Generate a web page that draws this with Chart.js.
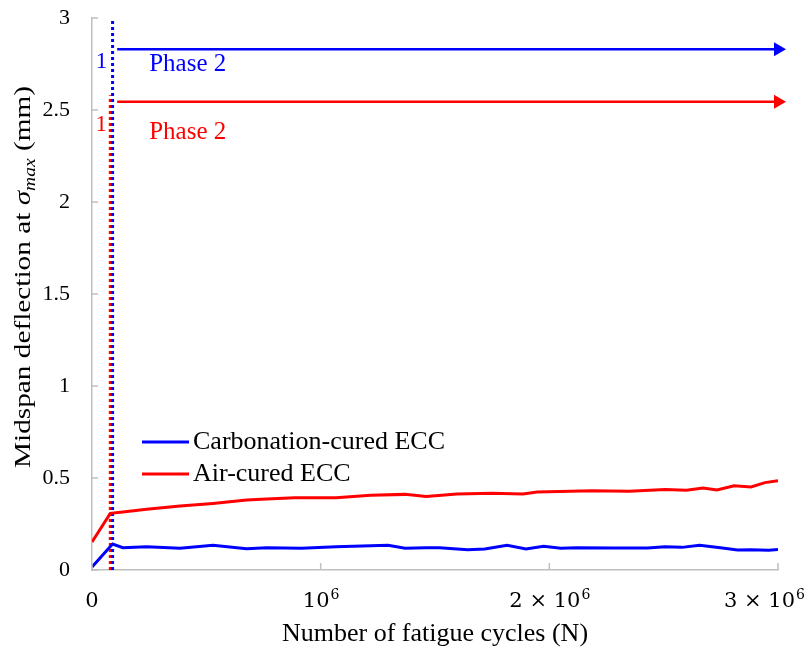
<!DOCTYPE html>
<html>
<head>
<meta charset="utf-8">
<script src="https://cdn.jsdelivr.net/npm/chart.js@4.4.0/dist/chart.umd.min.js"></script>
<style>
body { margin: 0; background: #fff; }
#wrap { width: 809px; height: 654px; }
</style>
</head>
<body>
<div id="wrap"><canvas id="myChart" width="809" height="654"></canvas></div>
<script>
// fatigue cycles (N) and midspan deflection (mm)
const carbCycles = [0, 90000, 135000, 239000, 385000, 529000, 676000, 764000, 916000, 1067000, 1295000, 1369000, 1461000, 1520000, 1643000, 1718000, 1815000, 1898000, 1975000, 2050000, 2120000, 2280000, 2430000, 2506000, 2580000, 2657000, 2748000, 2823000, 2880000, 2959000, 3000000];
const carbDefl   = [0.016, 0.141, 0.121, 0.127, 0.118, 0.134, 0.116, 0.121, 0.118, 0.127, 0.134, 0.118, 0.121, 0.121, 0.110, 0.114, 0.134, 0.114, 0.129, 0.118, 0.121, 0.120, 0.120, 0.127, 0.123, 0.134, 0.121, 0.109, 0.110, 0.107, 0.112];

const airCycles = [0, 80000, 135000, 239000, 385000, 529000, 676000, 764000, 886000, 1067000, 1219000, 1369000, 1461000, 1596000, 1749000, 1885000, 1946000, 2187000, 2350000, 2506000, 2600000, 2672000, 2733000, 2808000, 2882000, 2943000, 3000000];
const airDefl   = [0.152, 0.308, 0.315, 0.330, 0.348, 0.362, 0.380, 0.386, 0.393, 0.393, 0.406, 0.411, 0.399, 0.413, 0.417, 0.413, 0.424, 0.431, 0.428, 0.438, 0.433, 0.446, 0.435, 0.458, 0.451, 0.475, 0.485];

// end of phase 1 (dotted lines) and phase 2 arrows
const carbPhase1End = 90000;
const airPhase1End = 80000;
const airBoundaryTop = 2.58;
const phase2Start = 110000;
const carbPhase2Level = 2.83;
const airPhase2Level = 2.545;

const xTickBase = ['0', '10', '2 \u00d7 10', '3 \u00d7 10'];
const xTickExp  = ['', '6', '6', '6'];

const BLUE = '#0000ff';
const RED = '#ff0000';
const AXIS = '#bfbfbf';
const SERIF = '"Liberation Serif", "Times New Roman", serif';

const pts = (xs, ys) => xs.map((v, i) => ({ x: v, y: ys[i] }));

const extras = {
  id: 'extras',
  afterDraw(chart) {
    const { ctx, chartArea: a, scales: { x, y } } = chart;
    ctx.save();

    // tick marks point into the plot
    ctx.strokeStyle = AXIS;
    ctx.lineWidth = 1.5;
    ctx.beginPath();
    y.ticks.forEach((t, i) => {
      const py = y.getPixelForTick(i);
      ctx.moveTo(a.left, py); ctx.lineTo(a.left + 6, py);
    });
    x.ticks.forEach((t, i) => {
      const px = x.getPixelForTick(i);
      ctx.moveTo(px, a.bottom); ctx.lineTo(px, a.bottom - 7);
    });
    ctx.stroke();

    // x tick labels with superscript exponent
    ctx.fillStyle = '#000';
    ctx.textBaseline = 'alphabetic';
    ctx.textAlign = 'left';
    x.ticks.forEach((t, i) => {
      const px = x.getPixelForTick(i);
      ctx.font = '21px "DejaVu Serif", serif';
      const wb = ctx.measureText(xTickBase[i]).width;
      ctx.font = '14px "DejaVu Serif", serif';
      const we = ctx.measureText(xTickExp[i]).width;
      let left = px - (wb + we) / 2;
      if (left + wb + we > chart.width - 5) left = chart.width - 5 - wb - we;
      ctx.font = '21px "DejaVu Serif", serif';
      ctx.fillText(xTickBase[i], left, a.bottom + 37);
      ctx.font = '14px "DejaVu Serif", serif';
      ctx.fillText(xTickExp[i], left + wb + 1, a.bottom + 29);
    });

    // y axis title with italic sigma_max
    const parts = [
      { t: 'Midspan deflection at ', f: '24px ' + SERIF, dy: 0 },
      { t: '\u03c3', f: 'italic 24px ' + SERIF, dy: 0 },
      { t: 'max', f: 'italic 16px ' + SERIF, dy: 5 },
      { t: ' (mm)', f: '24px ' + SERIF, dy: 0 }
    ];
    let total = 0;
    parts.forEach(p => { ctx.font = p.f; p.w = ctx.measureText(p.t).width; total += p.w; });
    ctx.save();
    ctx.translate(30, (a.top + a.bottom) / 2 - 17);
    ctx.rotate(-Math.PI / 2);
    ctx.scale(1.22, 1);
    let cx = -total / 2;
    parts.forEach(p => { ctx.font = p.f; ctx.fillText(p.t, cx, p.dy); cx += p.w; });
    ctx.restore();

    // legend (inside plot)
    const rows = [0, 1].map(i => chart.data.datasets[i]);
    rows.forEach((ds, i) => {
      const ly = a.top + 424 + i * 32;
      ctx.strokeStyle = ds.borderColor;
      ctx.lineWidth = 3;
      ctx.beginPath();
      ctx.moveTo(a.left + 50, ly); ctx.lineTo(a.left + 97, ly);
      ctx.stroke();
      ctx.fillStyle = '#000';
      ctx.font = '26px ' + SERIF;
      ctx.textBaseline = 'middle';
      ctx.fillText(ds.label, a.left + 101, ly);
    });

    // phase annotations
    ctx.textBaseline = 'alphabetic';
    const bx = x.getPixelForValue(carbPhase1End);
    const rx = x.getPixelForValue(airPhase1End);
    const by = y.getPixelForValue(carbPhase2Level);
    const ry = y.getPixelForValue(airPhase2Level);
    ctx.font = '23px ' + SERIF;
    ctx.textAlign = 'center';
    ctx.fillStyle = BLUE;
    ctx.fillText('1', bx - 11, by + 19);
    ctx.fillStyle = RED;
    ctx.fillText('1', rx - 9, ry + 29);
    ctx.font = '25px ' + SERIF;
    ctx.textAlign = 'left';
    ctx.fillStyle = BLUE;
    ctx.fillText('Phase 2', x.getPixelForValue(250000), by + 22);
    ctx.fillStyle = RED;
    ctx.fillText('Phase 2', x.getPixelForValue(250000), ry + 37);

    ctx.restore();
  }
};

const ctx = document.getElementById('myChart').getContext('2d');

const myChart = new Chart(ctx, {
  type: 'line',
  data: {
    datasets: [{
      label: 'Carbonation-cured ECC',
      data: pts(carbCycles, carbDefl),
      borderColor: BLUE,
      borderWidth: 3,
      pointRadius: 0
    }, {
      label: 'Air-cured ECC',
      data: pts(airCycles, airDefl),
      borderColor: RED,
      borderWidth: 3,
      pointRadius: 0
    }, {
      label: 'carb phase 1',
      data: [{ x: carbPhase1End, y: 0 }, { x: carbPhase1End, y: 3 }],
      borderColor: BLUE,
      borderWidth: 3,
      borderDash: [3, 3],
      pointRadius: 0
    }, {
      label: 'air phase 1',
      data: [{ x: airPhase1End, y: 0 }, { x: airPhase1End, y: airBoundaryTop }],
      borderColor: RED,
      borderWidth: 3,
      borderDash: [3, 3],
      pointRadius: 0
    }, {
      label: 'carb phase 2',
      data: [{ x: phase2Start, y: carbPhase2Level }, { x: 3000000, y: carbPhase2Level }],
      borderColor: BLUE,
      backgroundColor: BLUE,
      borderWidth: 2.5,
      pointStyle: 'triangle',
      pointRotation: 90,
      pointRadius: [0, 8],
      pointBorderWidth: 0,
      clip: false
    }, {
      label: 'air phase 2',
      data: [{ x: phase2Start, y: airPhase2Level }, { x: 3000000, y: airPhase2Level }],
      borderColor: RED,
      backgroundColor: RED,
      borderWidth: 2.5,
      pointStyle: 'triangle',
      pointRotation: 90,
      pointRadius: [0, 8],
      pointBorderWidth: 0,
      clip: false
    }]
  },
  options: {
    responsive: false,
    animation: false,
    events: [],
    layout: { padding: { left: 0, right: 31, top: 18, bottom: 0 } },
    plugins: {
      legend: { display: false },
      tooltip: { enabled: false }
    },
    scales: {
      x: {
        type: 'linear',
        min: 0,
        max: 3000000,
        afterFit: (scale) => { scale.height = 84; },
        ticks: { stepSize: 1000000, display: false },
        grid: { display: false, drawTicks: false },
        border: { display: true, color: AXIS, width: 1.5 },
        title: {
          display: true,
          text: 'Number of fatigue cycles (N)',
          color: '#000',
          font: { family: SERIF, size: 26 },
          padding: { top: 0, bottom: 4 }
        }
      },
      y: {
        min: 0,
        max: 3,
        afterFit: (scale) => {
          scale.width = 92;
          scale.paddingTop = 12;
          scale.paddingBottom = 12;
        },
        ticks: {
          stepSize: 0.5,
          padding: 22,
          color: '#000',
          font: { family: SERIF, size: 22 },
          callback: (v) => String(v)
        },
        grid: { display: false, drawTicks: false },
        border: { display: true, color: AXIS, width: 1.5 }
      }
    }
  },
  plugins: [extras]
});
</script>
</body>
</html>
